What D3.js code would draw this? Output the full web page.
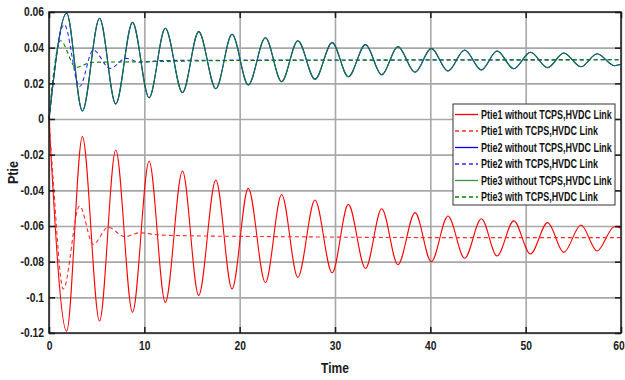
<!DOCTYPE html>
<html>
<head>
<meta charset="utf-8">
<script src="https://cdn.jsdelivr.net/npm/d3@7"></script>
<style>
  body { margin: 0; background: #fff; }
  text { font-family: "Liberation Sans Narrow", "Arial Narrow", "Liberation Sans", Arial, sans-serif; font-weight: bold; }
</style>
</head>
<body>
<script>
// times of the turning points of the curves without TCPS
var tWithout = [0, 1.85, 3.5, 5.3, 7.0, 8.76, 10.5, 12.2, 14.0, 15.7, 17.5, 19.2, 20.9, 22.7, 24.4, 26.1,
  27.9, 29.7, 31.4, 33.2, 34.9, 36.6, 38.4, 40.1, 41.85, 43.6, 45.35, 47.0, 48.75, 50.5, 52.3, 54.0,
  55.8, 57.5, 59.3, 60];

var ptie1Without = [0, -0.119, -0.0099, -0.1133, -0.0174, -0.1084, -0.0237, -0.1028, -0.0292, -0.0989,
  -0.0342, -0.0953, -0.0389, -0.0918, -0.0423, -0.0888, -0.0454, -0.0862, -0.0479, -0.0838, -0.0503,
  -0.0817, -0.0525, -0.0800, -0.0544, -0.0781, -0.0559, -0.0768, -0.0571, -0.0757, -0.0581, -0.0748,
  -0.0594, -0.0740, -0.0604, -0.0612];

var ptie2Without = [0, 0.0593, 0.0045, 0.0565, 0.0084, 0.0542, 0.0119, 0.0509, 0.0148, 0.0490,
  0.0170, 0.0475, 0.0191, 0.0456, 0.0209, 0.0439, 0.0223, 0.0428, 0.0237, 0.0417, 0.0248,
  0.0406, 0.0262, 0.0396, 0.0269, 0.0387, 0.0275, 0.0381, 0.0282, 0.0374, 0.0288, 0.0370,
  0.0293, 0.0366, 0.0299, 0.0307];

var ptie3Without = [0, 0.0593, 0.0045, 0.0565, 0.0084, 0.0542, 0.0119, 0.0509, 0.0148, 0.0490,
  0.0170, 0.0475, 0.0191, 0.0456, 0.0209, 0.0439, 0.0223, 0.0428, 0.0237, 0.0417, 0.0248,
  0.0406, 0.0262, 0.0396, 0.0269, 0.0387, 0.0275, 0.0381, 0.0282, 0.0374, 0.0288, 0.0370,
  0.0293, 0.0366, 0.0299, 0.0307];

// curves with TCPS + HVDC link
var tPtie1With = [0, 0.45, 1.5, 3.2, 4.64, 6.2, 7.96, 9.5, 11.5, 15, 25, 40, 60];
var ptie1With  = [0, -0.035, -0.0953, -0.0488, -0.0703, -0.0607, -0.066, -0.0638, -0.065, -0.0655, -0.066, -0.0665, -0.0665];

var tPtie2With = [0, 1.6, 3.2, 4.64, 6.4, 8.1, 9.5, 12, 20, 60];
var ptie2With  = [0, 0.053, 0.0181, 0.0387, 0.0284, 0.034, 0.0318, 0.0328, 0.033, 0.0332];

var tPtie3With = [0, 0.5, 1.2, 2.83, 4.5, 8, 20, 60];
var ptie3With  = [0, 0.0265, 0.0439, 0.029, 0.0318, 0.032, 0.0328, 0.0332];

var xTicks = [0, 10, 20, 30, 40, 50, 60];
var yTicks = [-0.12, -0.1, -0.08, -0.06, -0.04, -0.02, 0, 0.02, 0.04, 0.06];
var yTickLabels = ["-0.12", "-0.1", "-0.08", "-0.06", "-0.04", "-0.02", "0", "0.02", "0.04", "0.06"];

var legendNames = ["Ptie1 without TCPS,HVDC Link", "Ptie1 with TCPS,HVDC Link",
  "Ptie2 without TCPS,HVDC Link", "Ptie2 with TCPS,HVDC Link",
  "Ptie3 without TCPS,HVDC Link", "Ptie3 with TCPS,HVDC Link"];

// set the dimensions and margins of the graph
var margin = {top: 12, right: 4, bottom: 47, left: 49},
    width = 625 - margin.left - margin.right,
    height = 380 - margin.top - margin.bottom;

var x = d3.scaleLinear().domain([0, 60]).range([0, width]);
var y = d3.scaleLinear().domain([-0.12, 0.06]).range([height, 0]);

var svg = d3.select("body")
    .append("svg")
        .attr("width", 625)
        .attr("height", 380)
    .append("g")
        .attr("transform", "translate(" + margin.left + "," + margin.top + ")");

// squeeze a text horizontally around its x anchor (the reference uses a narrow font)
function narrow(sel, k) {
  sel.each(function() {
    var t = d3.select(this),
        tx = +t.attr("x") || 0,
        prev = t.attr("transform") || "";
    t.attr("transform", prev + " translate(" + tx + ",0) scale(" + k + ",1) translate(" + (-tx) + ",0)");
  });
}

// grid lines
svg.append("g")
    .attr("class", "grid")
    .call(d3.axisLeft(y).tickValues(yTicks).tickSize(-width).tickFormat(""));
svg.append("g")
    .attr("class", "grid")
    .attr("transform", "translate(0," + height + ")")
    .call(d3.axisBottom(x).tickValues(xTicks).tickSize(-height).tickFormat(""));
svg.selectAll(".grid .domain").remove();
svg.selectAll(".grid line")
    .style("stroke", "#a8a8a8")
    .style("stroke-width", "1.6");

function makeLine(times) {
  return d3.line()
    .x(function(d, i) { return x(times[i]); })
    .y(function(d) { return y(d); })
    .curve(d3.curveMonotoneX);
}

var series = [
  {values: ptie1Without, times: tWithout, color: "#ff0000", dash: null},
  {values: ptie1With, times: tPtie1With, color: "#ff2a2a", dash: "4,3"},
  {values: ptie2Without, times: tWithout, color: "#0000ff", dash: null},
  {values: ptie3Without, times: tWithout, color: "#137a35", dash: null},
  {values: ptie2With, times: tPtie2With, color: "#2a2aff", dash: "4,3"},
  {values: ptie3With, times: tPtie3With, color: "#008000", dash: "4,3"}
];

series.forEach(function(s) {
  svg.append("path")
      .datum(s.values)
      .style("fill", "none")
      .style("stroke", s.color)
      .style("stroke-width", "1.1")
      .style("stroke-dasharray", s.dash)
      .attr("d", makeLine(s.times));
});

// axes with inward ticks on all four sides
var xAxis = svg.append("g")
    .attr("class", "axis")
    .attr("transform", "translate(0," + height + ")")
    .call(d3.axisBottom(x).tickValues(xTicks).tickSizeInner(-6).tickSizeOuter(0).tickPadding(8));
svg.append("g")
    .attr("class", "axis")
    .call(d3.axisLeft(y).tickValues(yTicks).tickSizeInner(-6).tickSizeOuter(0).tickPadding(5)
      .tickFormat(function(d, i) { return yTickLabels[i]; }));
svg.append("g")
    .attr("class", "axis")
    .call(d3.axisTop(x).tickValues(xTicks).tickSizeInner(-6).tickSizeOuter(0).tickFormat(""));
svg.append("g")
    .attr("class", "axis")
    .attr("transform", "translate(" + width + ",0)")
    .call(d3.axisRight(y).tickValues(yTicks).tickSizeInner(-6).tickSizeOuter(0).tickFormat(""));

svg.selectAll(".axis .domain").remove();
svg.selectAll(".axis .tick line")
    .style("stroke", "#1a1a1a")
    .style("stroke-width", "1.5");
svg.selectAll(".axis .tick text")
    .style("font-size", "12px")
    .style("fill", "#1a1a1a")
    .call(narrow, 0.86);

// keep the last x label ("60") inside the page
xAxis.selectAll(".tick text").filter(function(d) { return d === 60; }).attr("dx", -3);

// frame
svg.append("rect")
    .attr("width", width)
    .attr("height", height)
    .style("fill", "none")
    .style("stroke", "#1a1a1a")
    .style("stroke-width", "1.5");

// axis labels
svg.append("text")
    .attr("x", width / 2)
    .attr("y", height + 40)
    .attr("text-anchor", "middle")
    .style("font-size", "14px")
    .style("fill", "#1a1a1a")
    .text("Time")
    .call(narrow, 0.86);

svg.append("text")
    .attr("transform", "translate(-31," + (height / 2) + ") rotate(-90)")
    .attr("text-anchor", "middle")
    .style("font-size", "14px")
    .style("fill", "#1a1a1a")
    .text("Ptie")
    .call(narrow, 0.9);

// legend
var legend = svg.append("g")
    .attr("transform", "translate(" + (453 - margin.left) + "," + (104 - margin.top) + ")");

legend.append("rect")
    .attr("width", 162)
    .attr("height", 101)
    .style("fill", "#fff")
    .style("stroke", "#333")
    .style("stroke-width", "1");

var legendColors = ["#ff0000", "#ff2a2a", "#0000ff", "#2a2aff", "#2e9a3e", "#008000"];
var legendDash = [null, "4,3", null, "4,3", null, "4,3"];

legendNames.forEach(function(name, i) {
  var ly = 10.5 + i * 16.5;
  legend.append("line")
      .attr("x1", 2).attr("x2", 25)
      .attr("y1", ly).attr("y2", ly)
      .style("stroke", legendColors[i])
      .style("stroke-width", "1.3")
      .style("stroke-dasharray", legendDash[i]);
  legend.append("text")
      .attr("class", "legend-text")
      .attr("x", 28)
      .attr("y", ly)
      .attr("dy", "0.35em")
      .style("font-size", "12px")
      .style("fill", "#111")
      .text(name);
});

// fit the longest legend entry to the box width, squeeze the others by the same factor
var longest = d3.max(legend.selectAll(".legend-text").nodes(), function(n) { return n.getComputedTextLength(); });
legend.selectAll(".legend-text").call(narrow, 131 / longest);
</script>
</body>
</html>
